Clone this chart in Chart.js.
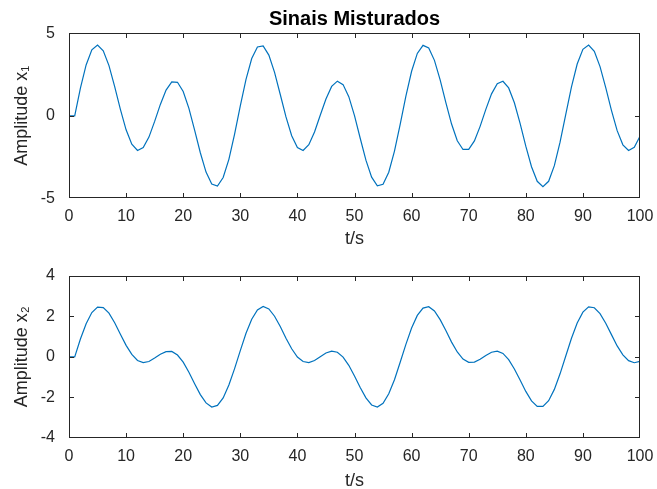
<!DOCTYPE html>
<html>
<head>
<meta charset="utf-8">
<script src="https://cdn.jsdelivr.net/npm/chart.js@4.4.1/dist/chart.umd.min.js"></script>
<style>
  body { margin: 0; background: #fff; }
  #topo { position: absolute; left: 0; top: 0; }
  #baixo { position: absolute; left: 0; top: 250px; }
</style>
</head>
<body>
<canvas id="topo" width="657" height="250"></canvas>
<canvas id="baixo" width="657" height="239"></canvas>
<script>
// Tempo (t/s), amostras de 0 a 100
var tempo = [];
for (var i = 0; i <= 100; i++) tempo.push(i);

// Sinal misturado x1
var sinalX1 = [0, 0, 1.68, 3.08, 4.00, 4.29, 3.94, 3.04, 1.77, 0.39,
  -0.85, -1.72, -2.10, -1.93, -1.29, -0.34, 0.69, 1.56, 2.05, 2.03,
  1.47, 0.45, -0.87, -2.24, -3.41, -4.13, -4.26, -3.74, -2.64, -1.11,
  0.60, 2.21, 3.47, 4.17, 4.24, 3.68, 2.63, 1.29, -0.07, -1.21,
  -1.92, -2.10, -1.75, -0.98, 0.03, 1.02, 1.78, 2.10, 1.89, 1.16,
  0.01, -1.36, -2.69, -3.72, -4.25, -4.15, -3.42, -2.14, -0.52, 1.19,
  2.70, 3.78, 4.27, 4.11, 3.36, 2.18, 0.80, -0.50, -1.51, -2.04,
  -2.03, -1.52, -0.64, 0.39, 1.33, 1.95, 2.09, 1.69, 0.79, -0.46,
  -1.84, -3.09, -3.97, -4.29, -3.97, -3.02, -1.60, 0.09, 1.75, 3.14,
  4.03, 4.29, 3.91, 2.98, 1.71, 0.33, -0.90, -1.76, -2.10, -1.91,
  -1.24];

// Sinal misturado x2
var sinalX2 = [0, 0, 0.88, 1.64, 2.19, 2.46, 2.44, 2.16, 1.69, 1.12,
  0.57, 0.12, -0.18, -0.28, -0.23, -0.06, 0.13, 0.26, 0.27, 0.09,
  -0.26, -0.76, -1.33, -1.87, -2.28, -2.48, -2.40, -2.03, -1.39, -0.58,
  0.31, 1.17, 1.86, 2.32, 2.49, 2.37, 2.01, 1.50, 0.92, 0.40,
  -0.01, -0.23, -0.28, -0.18, 0.01, 0.19, 0.28, 0.23, -0.01, -0.42,
  -0.95, -1.52, -2.03, -2.38, -2.48, -2.30, -1.83, -1.13, -0.27, 0.62,
  1.43, 2.05, 2.41, 2.48, 2.27, 1.84, 1.30, 0.73, 0.24, -0.11,
  -0.27, -0.26, -0.12, 0.07, 0.23, 0.28, 0.17, -0.14, -0.60, -1.15,
  -1.71, -2.18, -2.45, -2.45, -2.17, -1.61, -0.84, 0.04, 0.92, 1.67,
  2.21, 2.47, 2.43, 2.14, 1.66, 1.10, 0.54, 0.10, -0.19, -0.29,
  -0.22];

var ticksX = [0, 100, 10];   // min, max, passo
var ticksY1 = [-5, 5, 5];
var ticksY2 = [-4, 4, 2];

var fonte = "'Liberation Sans', Arial, Helvetica, sans-serif";
var corEixo = '#262626';
var corLinha = '#0072BD';

//Plugin qui dessine la boîte et les petits traits vers l'intérieur (style MATLAB)
var caixaEixos = {
    id: 'caixaEixos',
    afterDraw: function(chart) {
        var ctx = chart.ctx;
        var a = chart.chartArea;
        var sx = chart.scales.x, sy = chart.scales.y;
        var L = Math.round(a.left), R = Math.round(a.right) - 1;
        var T = Math.round(a.top), B = Math.round(a.bottom) - 1;
        var tam = 4;
        ctx.save();
        ctx.fillStyle = corEixo;
        ctx.fillRect(L, T, R - L + 1, 1);
        ctx.fillRect(L, B, R - L + 1, 1);
        ctx.fillRect(L, T, 1, B - T + 1);
        ctx.fillRect(R, T, 1, B - T + 1);
        sx.ticks.forEach(function(t) {
            var p = Math.round(sx.getPixelForValue(t.value));
            if (p > R) p = R;
            ctx.fillRect(p, B - tam, 1, tam);
            ctx.fillRect(p, T + 1, 1, tam);
        });
        sy.ticks.forEach(function(t) {
            var p = Math.round(sy.getPixelForValue(t.value));
            if (p > B) p = B;
            ctx.fillRect(L + 1, p, tam, 1);
            ctx.fillRect(R - tam, p, tam, 1);
        });
        ctx.restore();
    }
};

function montaGrafico(id, valores, lim, rotuloY, opc) {
    var pontos = tempo.map(function(t, i) { return {x: t, y: valores[i]}; });
    return new Chart(document.getElementById(id), {
        type: 'line',
        data: {
            datasets: [{
                data: pontos,
                borderColor: corLinha,
                borderWidth: 1.2,
                pointRadius: 0,
                tension: 0,
                fill: false
            }]
        },
        options: {
            responsive: false,
            animation: false,
            events: [],
            layout: { padding: { left: 0, right: 17, top: opc.topo, bottom: 0 } },
            plugins: {
                legend: { display: false },
                tooltip: { enabled: false },
                title: opc.titulo
            },
            scales: {
                x: {
                    type: 'linear',
                    min: ticksX[0], max: ticksX[1],
                    grid: { display: false },
                    border: { display: false },
                    ticks: { stepSize: ticksX[2], padding: 1, color: corEixo, font: { family: fonte, size: 16 }, maxRotation: 0 },
                    title: { display: true, text: 't/s', color: corEixo, font: { family: fonte, size: 18, lineHeight: opc.lhX }, padding: { top: 0, bottom: opc.padX } },
                    afterFit: function(s) { s.height = opc.altX; s.paddingLeft = 0; s.paddingRight = 0; }
                },
                y: {
                    min: lim[0], max: lim[1],
                    grid: { display: false },
                    border: { display: false },
                    ticks: { stepSize: lim[2], padding: 6, color: corEixo, font: { family: fonte, size: 16 } },
                    title: { display: true, text: rotuloY, color: corEixo, font: { family: fonte, size: 18, lineHeight: 1 }, padding: { top: 13, bottom: 0 } },
                    afterFit: function(s) { s.width = 69; s.paddingTop = 0; s.paddingBottom = 0; }
                }
            }
        },
        plugins: [caixaEixos]
    });
}

montaGrafico('topo', sinalX1, ticksY1, 'Amplitude x\u2081', {
    topo: 0,
    altX: 51.7,
    lhX: 1,
    padX: 2,
    titulo: {
        display: true,
        text: 'Sinais Misturados',
        color: '#000',
        fullSize: false,
        font: { family: fonte, size: 20, weight: 'bold', lineHeight: 1 },
        padding: { top: 9, bottom: 4.3 }
    }
});

montaGrafico('baixo', sinalX2, ticksY2, 'Amplitude x\u2082', {
    topo: 26,
    altX: 51.3,
    lhX: 0.9,
    padX: 0,
    titulo: { display: false }
});
</script>
</body>
</html>
